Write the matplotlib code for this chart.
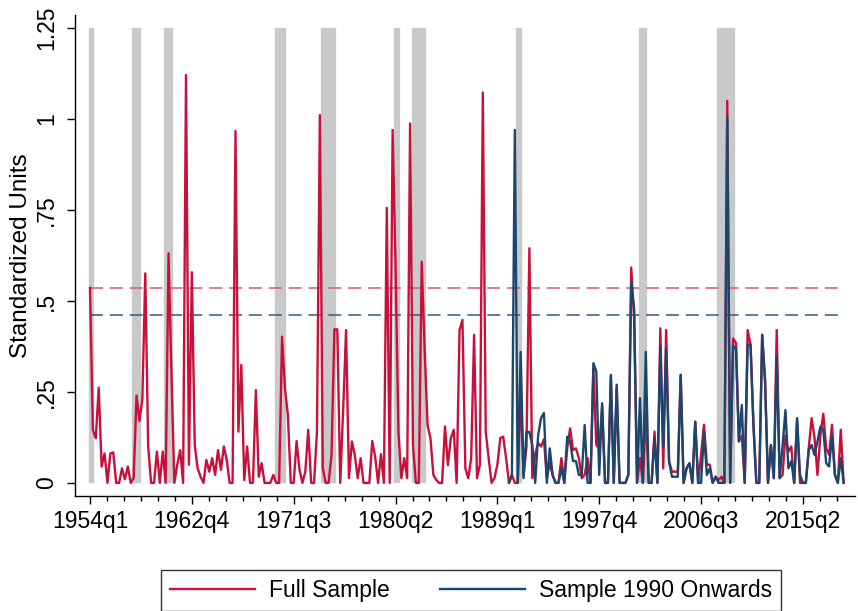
import numpy as np
from matplotlib import pyplot as plt

plt.rcParams["font.family"] = ["Liberation Sans", "DejaVu Sans"]

# quarterly series, 1954q1 .. 2018q4
start_year = 1954
full_sample = [
    0.536, 0.146, 0.123, 0.262, 0.045, 0.081, 0.0, 0.081, 0.084, 0.0,
    0.0, 0.04, 0.01, 0.045, 0.0, 0.013, 0.24, 0.17, 0.23, 0.576,
    0.10, 0.0, 0.0, 0.086, 0.0, 0.086, 0.0, 0.631, 0.30, 0.0,
    0.05, 0.09, 0.0, 1.121, 0.05, 0.579, 0.104, 0.04, 0.017, 0.0,
    0.063, 0.031, 0.068, 0.022, 0.09, 0.036, 0.10, 0.063, 0.0, 0.0,
    0.967, 0.141, 0.324, 0.008, 0.10, 0.0, 0.0, 0.255, 0.017, 0.054,
    0.0, 0.0, 0.0, 0.022, 0.0, 0.0, 0.402, 0.26, 0.187, 0.0,
    0.0, 0.115, 0.036, 0.0, 0.031, 0.146, 0.0, 0.0, 0.141, 1.011,
    0.04, 0.0, 0.0, 0.077, 0.422, 0.422, 0.0, 0.2, 0.42, 0.013,
    0.114, 0.077, 0.013, 0.068, 0.0, 0.0, 0.0, 0.115, 0.072, 0.0,
    0.079, 0.0, 0.756, 0.0, 0.97, 0.6, 0.141, 0.013, 0.068, 0.013,
    0.988, 0.104, 0.0, 0.0, 0.608, 0.37, 0.159, 0.123, 0.022, 0.008,
    0.0, 0.0, 0.155, 0.049, 0.123, 0.146, 0.0, 0.42, 0.448, 0.04,
    0.013, 0.068, 0.407, 0.013, 0.05, 1.073, 0.141, 0.068, 0.0, 0.013,
    0.05, 0.123, 0.127, 0.068, 0.0, 0.022, 0.0, 0.0, 0.25, 0.02,
    0.1, 0.645, 0.013, 0.08, 0.11, 0.10, 0.12, 0.013, 0.055, 0.02,
    0.0, 0.0, 0.068, 0.0, 0.095, 0.15, 0.09, 0.095, 0.068, 0.013,
    0.022, 0.068, 0.0, 0.315, 0.104, 0.095, 0.21, 0.0, 0.0, 0.29,
    0.0, 0.26, 0.0, 0.0, 0.0, 0.022, 0.592, 0.45, 0.0, 0.068,
    0.0, 0.196, 0.0, 0.0, 0.141, 0.0, 0.425, 0.04, 0.42, 0.059,
    0.031, 0.031, 0.03, 0.297, 0.0, 0.04, 0.054, 0.0, 0.168, 0.0,
    0.077, 0.16, 0.05, 0.05, 0.0, 0.017, 0.008, 0.017, 0.0, 1.05,
    0.0, 0.397, 0.385, 0.114, 0.13, 0.0, 0.42, 0.38, 0.16, 0.0,
    0.0, 0.407, 0.28, 0.0, 0.104, 0.013, 0.42, 0.013, 0.022, 0.13,
    0.086, 0.1, 0.0, 0.173, 0.0, 0.0, 0.0, 0.095, 0.178, 0.123,
    0.022, 0.13, 0.19, 0.095, 0.077, 0.16, 0.022, 0.0, 0.146, 0.0,
]

# 1990q1 .. 2018q4
sample_1990 = [
    0.0, 0.022, 0.97, 0.0, 0.36, 0.013,
    0.14, 0.14, 0.104, 0.0, 0.13, 0.178, 0.192, 0.0, 0.095, 0.022,
    0.0, 0.0, 0.04, 0.0, 0.127, 0.114, 0.06, 0.06, 0.022, 0.022,
    0.159, 0.0, 0.0, 0.329, 0.306, 0.022, 0.219, 0.0, 0.0, 0.297,
    0.0, 0.27, 0.0, 0.0, 0.0, 0.022, 0.553, 0.48, 0.0, 0.233,
    0.0, 0.36, 0.0, 0.0, 0.123, 0.0, 0.375, 0.1, 0.37, 0.059,
    0.017, 0.017, 0.017, 0.297, 0.0, 0.04, 0.054, 0.0, 0.168, 0.0,
    0.0, 0.14, 0.022, 0.04, 0.0, 0.017, 0.0, 0.0, 0.0, 1.006,
    0.0, 0.375, 0.37, 0.114, 0.214, 0.0, 0.38, 0.38, 0.16, 0.0,
    0.0, 0.407, 0.28, 0.0, 0.104, 0.013, 0.35, 0.013, 0.1, 0.2,
    0.04, 0.06, 0.0, 0.178, 0.022, 0.0, 0.0, 0.09, 0.104, 0.077,
    0.114, 0.155, 0.146, 0.054, 0.045, 0.13, 0.022, 0.0, 0.068, 0.0,
]

threshold_full = 0.536
threshold_1990 = 0.462

recessions = [
    ("1954q1", "1954q2"), ("1957q4", "1958q2"), ("1960q3", "1961q1"),
    ("1970q1", "1970q4"), ("1974q1", "1975q1"), ("1980q2", "1980q3"),
    ("1981q4", "1982q4"), ("1990q4", "1991q1"), ("2001q2", "2001q4"),
    ("2008q1", "2009q2"),
]

x_tick_labels = ["1954q1", "1962q4", "1971q3", "1980q2",
                 "1989q1", "1997q4", "2006q3", "2015q2"]
y_ticks = [0, 0.25, 0.5, 0.75, 1, 1.25]
y_tick_labels = ["0", ".25", ".5", ".75", "1", "1.25"]

RED = "#c8103a"
BLUE = "#1a476f"


def q_index(label):
    """Quarter label like 1957q4 -> position counted from 1954q1"""
    year, q = label.split("q")
    return (int(year) - start_year) * 4 + int(q) - 1


def main():
    t_full = np.arange(len(full_sample))
    t_1990 = np.arange(q_index("1990q1"), q_index("1990q1") + len(sample_1990))

    fig = plt.figure(figsize=(8.58, 6.11), dpi=100)
    ax = fig.add_axes([75 / 858, 115 / 611, 780 / 858, 481 / 611])

    for first, last in recessions:
        qs = np.arange(q_index(first), q_index(last) + 1)
        ax.bar(qs, 1.25, width=1.0, color="#c8c8c8", edgecolor="#d0d0d0",
               linewidth=0.3, zorder=1)

    ax.hlines(threshold_full, t_full[0], t_full[-1], color="#d4587a",
              linewidth=1.1, linestyles=(0, (8.5, 4.5)), zorder=2)
    ax.hlines(threshold_1990, t_full[0], t_full[-1], color="#2d5b86",
              linewidth=1.1, linestyles=(0, (8.5, 4.5)), zorder=2)

    ax.plot(t_full, full_sample, color=RED, linewidth=1.7, zorder=3,
            label="Full Sample")
    ax.plot(t_1990, sample_1990, color=BLUE, linewidth=1.7, zorder=4,
            label="Sample 1990 Onwards")

    ax.set_xlim(-5.15, 262.9)
    ax.set_ylim(-0.036, 1.286)

    ax.set_xticks([q_index(s) for s in x_tick_labels])
    ax.set_xticklabels(x_tick_labels, fontsize=16.5)
    ax.set_xticks(np.arange(0, 262, 35 / 6), minor=True)
    ax.set_yticks(y_ticks)
    ax.set_yticklabels(y_tick_labels, fontsize=16.5, rotation=90, va="center")
    ax.tick_params(axis="both", which="major", length=6, width=1, color="black")
    ax.tick_params(axis="x", which="minor", length=3.5, width=1)
    ax.tick_params(axis="y", pad=6)
    ax.tick_params(axis="x", pad=4)
    ax.set_ylabel("Standardized Units", fontsize=17.5)
    ax.yaxis.set_label_coords(-43 / 780, 0.5)

    for side in ("top", "right"):
        ax.spines[side].set_visible(False)
    for side in ("left", "bottom"):
        ax.spines[side].set_linewidth(1)

    leg = fig.legend(loc="lower center", bbox_to_anchor=(471 / 858, 0.0),
                     ncol=2, fontsize=16.5, frameon=True, fancybox=False,
                     handlelength=3.7, handletextpad=0.6, columnspacing=2.2,
                     borderpad=0.4, borderaxespad=0.0)
    leg.get_frame().set_edgecolor("black")
    leg.get_frame().set_linewidth(1)

    fig.savefig("out.png", dpi=100)


if __name__ == "__main__":
    main()
